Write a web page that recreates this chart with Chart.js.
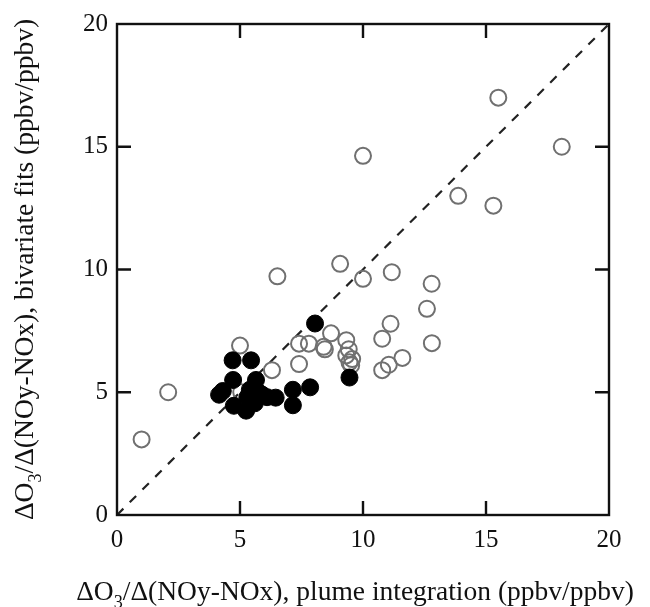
<!DOCTYPE html>
<html>
<head>
<meta charset="utf-8">
<style>
  html, body { margin: 0; padding: 0; background: #fff; }
  #wrap { width: 650px; height: 607px; }
</style>
<script src="https://cdn.jsdelivr.net/npm/chart.js@4.4.1/dist/chart.umd.min.js"></script>
</head>
<body>
<div id="wrap"><canvas id="plot" width="650" height="607"></canvas></div>
<script>
// =========================
//  DATA
// =========================

// filled circles: x = plume integration, y = bivariate fit
const filledX = [8.05, 4.70, 5.45, 4.72, 5.65, 4.30, 4.15, 5.40, 5.75, 5.30, 4.75, 5.25, 5.60, 6.10, 6.45, 7.15, 7.85, 7.15, 9.45, 5.90, 5.50];
const filledY = [7.80, 6.30, 6.30, 5.50, 5.50, 5.05, 4.90, 5.10, 5.00, 4.80, 4.45, 4.25, 4.55, 4.80, 4.78, 5.10, 5.20, 4.47, 5.60, 4.90, 4.70];

// open circles
const openX = [1.00, 2.08, 5.00, 5.05, 6.30, 7.40, 7.40, 7.80, 8.40, 8.45, 8.70, 9.32, 9.42, 9.32, 9.56, 9.52, 9.45,
               10.78, 11.12, 10.78, 11.05, 11.60, 12.80, 12.60, 12.79, 11.17, 10.00, 9.07, 6.52, 10.00, 13.87, 15.30, 15.50, 18.08];
const openY = [3.08, 5.00, 6.90, 5.00, 5.90, 6.15, 6.98, 6.98, 6.85, 6.75, 7.40, 7.12, 6.75, 6.50, 6.35, 6.10, 6.22,
               7.18, 7.79, 5.90, 6.12, 6.40, 7.00, 8.40, 9.42, 9.89, 9.62, 10.23, 9.72, 14.63, 13.00, 12.60, 17.00, 15.00];

// 1:1 reference line
const oneToOneX = [0, 20];
const oneToOneY = [0, 20];

// axis range and ticks
const AXIS_MIN = 0;
const AXIS_MAX = 20;
const TICK_STEP = 5;

const SERIF = "'Liberation Serif', 'Times New Roman', serif";

function toPoints(xs, ys) {
  return xs.map((x, i) => ({ x: x, y: ys[i] }));
}

// =========================
//  PLUGINS
// =========================

// closed frame with inward tick marks on all four sides
const framePlugin = {
  id: "frame",
  afterDraw(chart) {
    const { ctx, chartArea: a, scales } = chart;
    const len = 14;
    ctx.save();
    ctx.strokeStyle = "#111";
    ctx.lineWidth = 2.4;
    ctx.strokeRect(a.left, a.top, a.right - a.left, a.bottom - a.top);
    ctx.beginPath();
    for (let v = AXIS_MIN + TICK_STEP; v < AXIS_MAX; v += TICK_STEP) {
      const px = scales.x.getPixelForValue(v);
      const py = scales.y.getPixelForValue(v);
      ctx.moveTo(px, a.bottom); ctx.lineTo(px, a.bottom - len);
      ctx.moveTo(px, a.top);    ctx.lineTo(px, a.top + len);
      ctx.moveTo(a.left, py);   ctx.lineTo(a.left + len, py);
      ctx.moveTo(a.right, py);  ctx.lineTo(a.right - len, py);
    }
    ctx.stroke();
    ctx.restore();
  }
};

// axis titles with a subscript 3 in O3
function drawRich(ctx, parts, size) {
  let w = 0;
  parts.forEach(p => {
    ctx.font = (p.sub ? size * 0.66 : size) + "px " + SERIF;
    p.w = ctx.measureText(p.t).width;
    w += p.w;
  });
  let x = -w / 2;
  parts.forEach(p => {
    ctx.font = (p.sub ? size * 0.66 : size) + "px " + SERIF;
    ctx.fillText(p.t, x, p.sub ? size * 0.28 : 0);
    x += p.w;
  });
}

const titlePlugin = {
  id: "axisTitles",
  afterDraw(chart) {
    const { ctx, chartArea: a } = chart;
    const size = 27.5;
    ctx.save();
    ctx.fillStyle = "#111";
    ctx.textBaseline = "alphabetic";
    ctx.textAlign = "left";

    ctx.save();
    ctx.translate((a.left + a.right) / 2 - 8, 600);
    drawRich(ctx, [
      { t: "\u0394O" }, { t: "3", sub: true },
      { t: "/\u0394(NOy-NOx), plume integration (ppbv/ppbv)" }
    ], size);
    ctx.restore();

    ctx.save();
    ctx.translate(33, (a.top + a.bottom) / 2);
    ctx.rotate(-Math.PI / 2);
    drawRich(ctx, [
      { t: "\u0394O" }, { t: "3", sub: true },
      { t: "/\u0394(NOy-NOx), bivariate fits (ppbv/ppbv)" }
    ], size);
    ctx.restore();

    ctx.restore();
  }
};

// =========================
//  CHART
// =========================

const tickFont = { family: SERIF, size: 25 };

new Chart(document.getElementById("plot"), {
  type: "scatter",
  data: {
    datasets: [
      {
        label: "filled",
        data: toPoints(filledX, filledY),
        pointRadius: 8.5,
        pointBackgroundColor: "#000",
        pointBorderColor: "#000",
        pointBorderWidth: 1,
        order: 0
      },
      {
        label: "open",
        data: toPoints(openX, openY),
        pointRadius: 8,
        pointBackgroundColor: "rgba(255,255,255,0)",
        pointBorderColor: "#707070",
        pointBorderWidth: 2,
        order: 1
      },
      {
        type: "line",
        label: "1:1",
        data: toPoints(oneToOneX, oneToOneY),
        borderColor: "#222",
        borderWidth: 2.2,
        borderDash: [9, 9],
        pointRadius: 0,
        fill: false,
        order: 2
      }
    ]
  },
  options: {
    responsive: false,
    animation: false,
    devicePixelRatio: 1,
    layout: { padding: { top: 23, right: 41, left: 0, bottom: 0 } },
    plugins: {
      legend: { display: false },
      tooltip: { enabled: false }
    },
    scales: {
      x: {
        type: "linear",
        min: AXIS_MIN,
        max: AXIS_MAX,
        grid: { display: false, drawTicks: false },
        border: { display: false },
        ticks: { stepSize: TICK_STEP, font: tickFont, color: "#111", padding: 10, maxRotation: 0 },
        afterFit(scale) { scale.height = 92; }
      },
      y: {
        type: "linear",
        min: AXIS_MIN,
        max: AXIS_MAX,
        grid: { display: false, drawTicks: false },
        border: { display: false },
        ticks: { stepSize: TICK_STEP, font: tickFont, color: "#111", padding: 9 },
        afterFit(scale) { scale.width = 117; }
      }
    }
  },
  plugins: [framePlugin, titlePlugin]
});
</script>
</body>
</html>
